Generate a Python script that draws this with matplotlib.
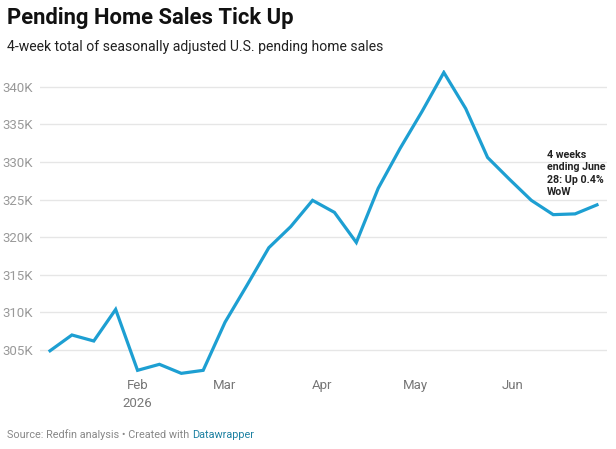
import numpy as np
import matplotlib
matplotlib.use('Agg')
import matplotlib.pyplot as plt
import matplotlib.dates as mdates

plt.rcParams['font.family'] = ['Roboto', 'DejaVu Sans']

# weekly data, 4 weeks ending each Sunday
week_ending = np.arange(np.datetime64('2026-01-04'), np.datetime64('2026-07-05'),
                        np.timedelta64(7, 'D'))
pending_k = [304.9, 307.0, 306.2, 310.4, 302.3, 303.1, 301.9, 302.3,
             308.7, 313.6, 318.6, 321.4, 324.9, 323.3, 319.3, 326.5,
             331.8, 336.7, 341.9, 337.1, 330.6, 327.7, 324.9, 323.0,
             323.1, 324.3]
yticks = [305, 310, 315, 320, 325, 330, 335, 340]
month_ticks = ['2026-02-01', '2026-03-01', '2026-04-01', '2026-05-01', '2026-06-01']
month_labels = ['Feb\n2026', 'Mar', 'Apr', 'May', 'Jun']

W, H = 616, 449
fig = plt.figure(figsize=(W/100, H/100), dpi=100)
ax = fig.add_axes([40/W, 1 - 375/H, 567/W, 305/H])

dates = week_ending.astype('datetime64[D]').astype(object)
ax.plot(dates, pending_k, color='#1d9fd2', lw=2.3, solid_joinstyle='miter',
        zorder=3)

pad = np.timedelta64(3, 'D') + np.timedelta64(5, 'h')
ax.set_xlim(mdates.date2num((week_ending[0] - pad).astype(object)),
            mdates.date2num((week_ending[-1] + pad).astype(object)))
ax.set_ylim(301.68, 342.23)

ax.set_yticks(yticks)
ax.set_yticklabels(['%dK' % v for v in yticks])
ax.yaxis.grid(True, color='#e6e6e6', lw=1)
ax.set_axisbelow(True)
ax.set_xticks([mdates.date2num(np.datetime64(d).astype(object)) for d in month_ticks])
ax.set_xticklabels(month_labels, linespacing=1.45)

for s in ax.spines.values():
    s.set_visible(False)
ax.tick_params(axis='y', length=0, pad=5, labelsize=9.5, labelcolor='#999999')
ax.tick_params(axis='x', length=0, pad=3, labelsize=9.5, labelcolor='#777777')

ax.text(mdates.date2num(np.datetime64('2026-06-12').astype(object)), 331.6,
        '4 weeks\nending June\n28: Up 0.4%\nWoW', fontsize=7.7, fontweight='bold',
        color='#222222', va='top', ha='left', linespacing=1.3)

fig.text(7/W, 1 - 18/H, 'Pending Home Sales Tick Up', fontsize=15.8,
         fontweight='bold', color='#111111', va='center', ha='left')
fig.text(7/W, 1 - 47/H, '4-week total of seasonally adjusted U.S. pending home sales',
         fontsize=10.1, color='#222222', va='center', ha='left')

src = fig.text(7/W, 1 - 435/H, 'Source: Redfin analysis \u2022 Created with ',
               fontsize=7.8, color='#888888', va='center', ha='left')
fig.canvas.draw()
bb = src.get_window_extent()
fig.text(bb.x1/W, 1 - 435/H, 'Datawrapper', fontsize=7.8, color='#1d81a2',
         va='center', ha='left')

fig.savefig('out.png', dpi=100)
